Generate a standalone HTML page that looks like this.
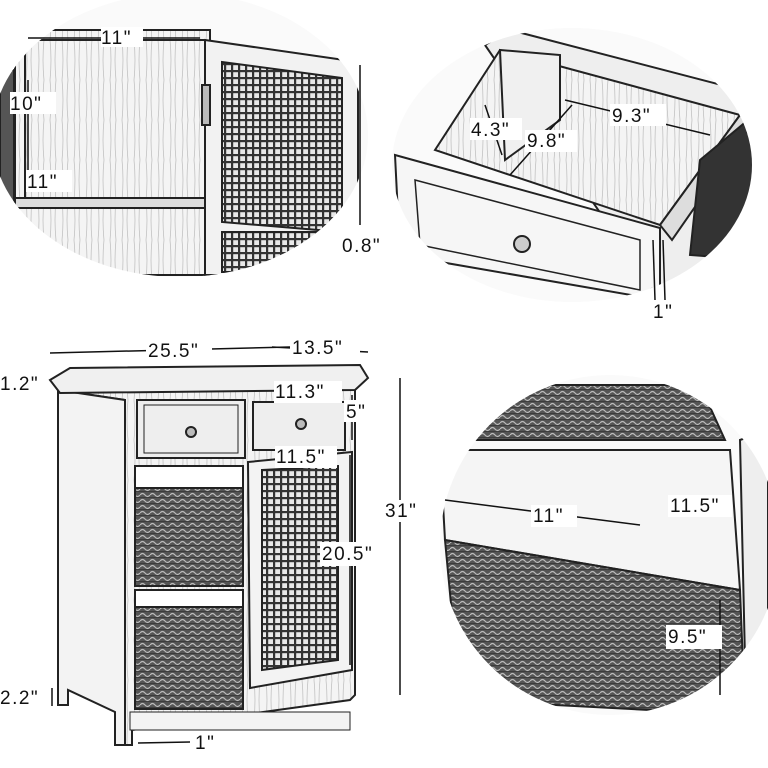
<!DOCTYPE html>
<html><head><meta charset="utf-8"><style>
html,body{margin:0;padding:0;background:#fff;}
svg{display:block}
text{font-family:"Liberation Sans",sans-serif;font-size:19px;fill:#111;letter-spacing:1.5px}
</style></head><body>
<svg width="768" height="768" viewBox="0 0 768 768" xmlns="http://www.w3.org/2000/svg">
<defs>
<pattern id="mesh" width="7" height="7" patternUnits="userSpaceOnUse">
<rect width="7" height="7" fill="#e8e8e8"/><rect x="0" y="0" width="7" height="2.2" fill="#333"/><rect x="0" y="0" width="2.2" height="7" fill="#333"/>
</pattern>
<pattern id="weave" width="10" height="6" patternUnits="userSpaceOnUse">
<rect width="10" height="6" fill="#555"/><path d="M0 3 Q2.5 0 5 3 T10 3" stroke="#bbb" stroke-width="1.2" fill="none"/><path d="M0 6 L10 6" stroke="#222" stroke-width="1"/>
</pattern>
<pattern id="wood" width="12" height="40" patternUnits="userSpaceOnUse">
<rect width="12" height="40" fill="#f4f4f4"/><path d="M2 0 Q4 20 2 40 M8 0 Q6 20 8 40" stroke="#bbb" stroke-width="0.7" fill="none"/>
</pattern>
<clipPath id="c1"><ellipse cx="180" cy="135" rx="188" ry="142"/></clipPath>
<clipPath id="c2"><ellipse cx="572" cy="165" rx="180" ry="137"/></clipPath>
<clipPath id="c4"><ellipse cx="610" cy="545" rx="170" ry="170"/></clipPath>
</defs>

<!-- top-left oval -->
<g clip-path="url(#c1)" stroke="#222" stroke-width="2">
<rect x="-10" y="-10" width="400" height="300" fill="#fafafa" stroke="none"/>
<rect x="15" y="30" width="195" height="245" fill="url(#wood)"/>
<rect x="25" y="40" width="180" height="158" fill="url(#wood)"/>
<rect x="15" y="198" width="195" height="10" fill="#ddd"/>
<rect x="0" y="70" width="14" height="140" fill="#555"/>
<polygon points="205,40 358,62 358,275 205,275" fill="#f2f2f2"/>
<polygon points="222,62 342,78 342,232 222,222" fill="url(#mesh)"/>
<rect x="222" y="232" width="110" height="40" fill="url(#mesh)"/>
<rect x="202" y="85" width="8" height="40" fill="#bbb"/>
</g>
<g stroke="#111" stroke-width="1.5" fill="none">
<line x1="28" y1="38" x2="200" y2="38"/><line x1="28" y1="80" x2="28" y2="190"/>
<line x1="360" y1="65" x2="360" y2="225"/>
</g>
<rect x="101" y="27" width="42" height="20" fill="#fff"/><text x="101" y="44">11"</text>
<rect x="10" y="92" width="46" height="22" fill="#fff"/><text x="10" y="110">10"</text>
<rect x="26" y="170" width="46" height="22" fill="#fff"/><text x="27" y="188">11"</text>
<text x="342" y="252">0.8"</text>

<!-- top-right oval -->
<g clip-path="url(#c2)" stroke="#222" stroke-width="2">
<rect x="385" y="25" width="380" height="290" fill="#fafafa" stroke="none"/>
<polygon points="485,45 510,30 760,95 760,300 660,300" fill="#eee"/>
<polygon points="435,150 500,50 740,115 660,225" fill="url(#wood)"/>
<polygon points="500,50 560,55 560,120 505,160" fill="#f0f0f0"/>
<polygon points="395,155 660,228 660,300 400,255" fill="#f6f6f6"/>
<polygon points="415,180 640,240 640,290 420,245" fill="none" stroke-width="1.5"/>
<polygon points="660,225 740,115 752,125 672,240" fill="#ddd"/>
<polygon points="700,160 760,110 760,260 690,255" fill="#333"/>
<circle cx="522" cy="244" r="8" fill="#ccc"/>
</g>
<g stroke="#111" stroke-width="1.5" fill="none">
<line x1="485" y1="105" x2="502" y2="155"/><line x1="510" y1="175" x2="572" y2="105"/>
<line x1="565" y1="100" x2="710" y2="135"/><line x1="653" y1="240" x2="655" y2="300"/><line x1="663" y1="240" x2="665" y2="300"/>
</g>
<rect x="470" y="118" width="52" height="22" fill="#fff"/><text x="471" y="136">4.3"</text>
<rect x="525" y="130" width="52" height="22" fill="#fff"/><text x="527" y="147">9.8"</text>
<rect x="610" y="104" width="56" height="22" fill="#fff"/><text x="612" y="122">9.3"</text>
<text x="653" y="318">1"</text>

<!-- cabinet -->
<g stroke="#222" stroke-width="2">
<polygon points="58,390 125,400 125,745 132,745 132,730 350,700 355,695 355,390" fill="url(#wood)"/>
<polygon points="58,390 125,400 125,745 115,745 115,712 68,690 68,705 58,705" fill="#f3f3f3"/>
<polygon points="50,380 70,368 360,365 368,378 355,390 60,393" fill="#f0f0f0"/>
<rect x="137" y="400" width="108" height="58" fill="#eee"/>
<rect x="144" y="405" width="94" height="48" fill="none" stroke-width="1"/>
<rect x="253" y="402" width="92" height="48" fill="#eee"/>
<circle cx="191" cy="432" r="5" fill="#bbb"/><circle cx="301" cy="424" r="5" fill="#bbb"/>
<rect x="135" y="466" width="108" height="22" fill="#fff"/>
<rect x="135" y="488" width="108" height="98" fill="url(#weave)"/>
<rect x="135" y="590" width="108" height="22" fill="#fff"/>
<rect x="135" y="607" width="108" height="102" fill="url(#weave)"/>
<polygon points="248,462 352,452 352,670 250,688" fill="#f3f3f3"/>
<polygon points="262,470 338,466 338,660 262,670" fill="url(#mesh)"/>
<rect x="130" y="712" width="220" height="18" fill="#f3f3f3" stroke-width="1"/>
</g>
<g stroke="#111" stroke-width="1.5" fill="none">
<line x1="50" y1="353" x2="290" y2="347"/><line x1="272" y1="347" x2="368" y2="352"/>
<line x1="400" y1="378" x2="400" y2="695"/>
<line x1="352" y1="395" x2="352" y2="440"/><line x1="350" y1="455" x2="350" y2="665"/>
<line x1="138" y1="743" x2="190" y2="742"/>
<line x1="52" y1="688" x2="52" y2="706"/>
</g>
<rect x="146" y="340" width="66" height="22" fill="#fff"/><text x="148" y="357">25.5"</text>
<rect x="290" y="337" width="70" height="22" fill="#fff"/><text x="292" y="354">13.5"</text>
<text x="0" y="390">1.2"</text>
<rect x="274" y="381" width="68" height="22" fill="#fff"/><text x="275" y="398">11.3"</text>
<rect x="344" y="400" width="24" height="22" fill="#fff"/><text x="346" y="418">5"</text>
<rect x="275" y="446" width="62" height="22" fill="#fff"/><text x="276" y="463">11.5"</text>
<rect x="320" y="542" width="66" height="24" fill="#fff"/><text x="322" y="560">20.5"</text>
<rect x="384" y="500" width="42" height="22" fill="#fff"/><text x="385" y="517">31"</text>
<text x="0" y="704">2.2"</text>
<text x="195" y="749">1"</text>

<!-- basket oval -->
<g clip-path="url(#c4)" stroke="#222" stroke-width="2">
<rect x="435" y="370" width="340" height="360" fill="#fafafa" stroke="none"/>
<polygon points="470,440 520,385 700,385 725,440" fill="url(#weave)"/>
<polygon points="440,450 730,450 740,590 445,540" fill="#f5f5f5"/>
<polygon points="445,540 740,590 745,715 460,700" fill="url(#weave)"/>
<polygon points="740,440 768,430 768,660 745,660" fill="#eee"/>
</g>
<g stroke="#111" stroke-width="1.5" fill="none">
<line x1="445" y1="500" x2="640" y2="525"/><line x1="670" y1="515" x2="730" y2="500"/>
<line x1="720" y1="600" x2="720" y2="695"/>
</g>
<rect x="531" y="505" width="46" height="22" fill="#fff"/><text x="533" y="522">11"</text>
<rect x="668" y="495" width="64" height="22" fill="#fff"/><text x="670" y="512">11.5"</text>
<rect x="666" y="625" width="56" height="24" fill="#fff"/><text x="668" y="643">9.5"</text>
</svg>
</body></html>
